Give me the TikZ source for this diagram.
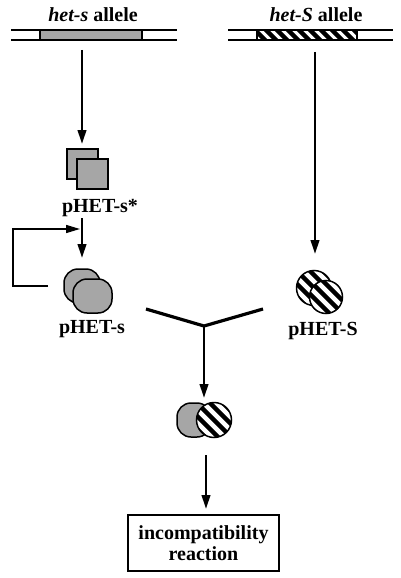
\documentclass[tikz,border=0pt]{standalone}
\usepackage{fontspec}
\setmainfont{Liberation Serif}
\usetikzlibrary{arrows.meta}
\tikzset{
  lbl/.style={font=\fontsize{20}{22}\selectfont\bfseries, inner sep=0pt},
  arr/.style={line width=2.3pt, -{Triangle[length=14pt,width=8.5pt]}},
  farr/.style={line width=1.5pt, -{Triangle[length=14pt,width=8pt]}},
  yline/.style={line width=3.2pt},
  outl/.style={line width=1.5pt},
  grayfill/.style={fill=black!35},
  stripe/.style={line width=4.5pt}
}
\begin{document}
\begin{tikzpicture}[x=1pt,y=-1pt]
\useasboundingbox (0,0) rectangle (400,578);
% allele labels
\node[lbl] (hs) at (93,15) {\textit{het-s} allele};
\node[lbl] (hS) at (316,15) {\textit{het-S} allele};
% left gene bar
\draw[outl] (11,30) -- (177,30) (11,40) -- (177,40);
\fill[grayfill] (40,30) rectangle (142,40);
\draw[outl] (40,30) rectangle (142,40);
% right gene bar
\draw[outl] (228,30) -- (393,30) (228,40) -- (393,40);
\begin{scope}
  \clip (257,30) rectangle (357,40);
  \foreach \i in {250,261,...,360} \draw[stripe] (\i,25) -- (\i+20,45);
\end{scope}
\draw[outl] (257,30) rectangle (357,40);
% squares
\coordinate (sq) at (87,169);
\draw[outl,grayfill] (67,149) rectangle (98,179);
\draw[outl,grayfill] (77,159) rectangle (108,189);
\node[lbl] (ps1) at (100,208) {pHET-s*};
% pHET-s blobs
\coordinate (bs) at (87,291);
\draw[outl,grayfill,rounded corners=14pt] (64,269) rectangle (100,303);
\draw[outl,grayfill,rounded corners=14pt] (73,279) rectangle (112,313);
\node[lbl] (ps) at (92,329) {pHET-s};
% pHET-S circles
\coordinate (bS) at (320,292);
\foreach \cx/\cy/\r in {314/288/17.5, 326/297/16.5}{
  \fill[white] (\cx,\cy) circle (\r);
  \begin{scope}
    \clip (\cx,\cy) circle (\r);
    \foreach \i in {-78,-65,...,78} \draw[stripe] (\cx+\i-30,\cy-30) -- (\cx+\i+30,\cy+30);
  \end{scope}
  \draw[outl] (\cx,\cy) circle (\r);
}
\node[lbl] (pS) at (323,331) {pHET-S};
% arrows from genes
\coordinate (a1) at (82,50);
\coordinate (a1e) at (82,144);
\draw[arr] (a1) -- (a1e);
\coordinate (a2) at (315,52);
\coordinate (a2e) at (315,254);
\draw[arr] (a2) -- (a2e);
% arrow from pHET-s* to pHET-s
\coordinate (b1) at (82,218);
\coordinate (b1e) at (82,258);
\draw[arr] (b1) -- (b1e);
% feedback loop
\coordinate (f1) at (48,286);
\coordinate (f2) at (13,286);
\coordinate (f3) at (13,229);
\coordinate (f4) at (80,229);
\draw[farr] (f1) -- (f2) -- (f3) -- (f4);
% Y junction
\coordinate (yl) at (146,309);
\coordinate (yc) at (204,326);
\coordinate (yr) at (263,309);
\draw[yline,line join=miter] (yl) -- (yc) -- (yr);
\coordinate (ye) at (204,398);
\draw[arr] (yc) -- (ye);
% combined complex
\draw[outl,grayfill,rounded corners=14pt] (177,403) rectangle (211,437);
\fill[white] (214,420) circle (17.5);
\begin{scope}
  \clip (214,420) circle (17.5);
  \foreach \i in {-78,-65,...,78} \draw[stripe] (214+\i-30,420-30) -- (214+\i+30,420+30);
\end{scope}
\draw[outl] (214,420) circle (17.5);
\coordinate (c1) at (206,455);
\coordinate (c1e) at (206,509);
\draw[arr] (c1) -- (c1e);
% box
\node[lbl, draw, line width=2.2pt, minimum width=151pt, minimum height=56pt, align=center, font=\fontsize{20}{21}\selectfont\bfseries] (box) at (203.5,543) {incompatibility\\reaction};
\end{tikzpicture}
\end{document}
